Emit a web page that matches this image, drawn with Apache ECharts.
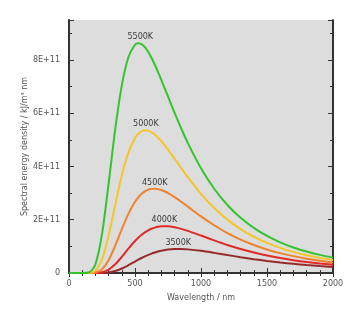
<!DOCTYPE html>
<html>
<head>
<meta charset="utf-8">
<script src="https://cdn.jsdelivr.net/npm/echarts@6/dist/echarts.min.js"></script>
<style>
  html, body { margin: 0; padding: 0; background: #fff; }
  #main { width: 364px; height: 325px; }
</style>
</head>
<body>
<div id="main"></div>
<script>
// wavelength (nm)
var wavelengths = [0, 100, 150, 200, 250, 300, 350, 400, 450, 500, 525, 550, 575, 600, 625, 650, 675, 700, 750,
    800, 850, 900, 1000, 1100, 1200, 1300, 1400, 1500, 1600, 1700, 1800, 1900, 2000];

// spectral energy density
var t5500 = [0, 0, 0.0175e11, 0.325e11, 1.458e11, 3.353e11, 5.392e11, 7.046e11, 8.10e11, 8.57e11, 8.63e11, 8.59e11, 8.48e11, 8.30e11, 8.08e11, 7.82e11, 7.54e11, 7.24e11, 6.63e11,
    6.01e11, 5.43e11, 4.885e11, 3.93e11, 3.165e11, 2.554e11, 2.072e11, 1.693e11, 1.392e11, 1.152e11, 0.960e11, 0.805e11, 0.680e11, 0.578e11];
var t5000 = [0, 0, 0.003e11, 0.0878e11, 0.512e11, 1.401e11, 2.553e11, 3.661e11, 4.523e11, 5.07e11, 5.23e11, 5.32e11, 5.36e11, 5.345e11, 5.29e11, 5.20e11, 5.08e11, 4.947e11, 4.63e11,
    4.29e11, 3.94e11, 3.598e11, 2.974e11, 2.442e11, 2.005e11, 1.65e11, 1.361e11, 1.13e11, 0.944e11, 0.793e11, 0.669e11, 0.568e11, 0.486e11];
var t4500 = [0, 0, 0, 0.0177e11, 0.1426e11, 0.483e11, 1.0245e11, 1.647e11, 2.222e11, 2.672e11, 2.84e11, 2.972e11, 3.066e11, 3.129e11, 3.159e11, 3.166e11, 3.15e11, 3.115e11, 3.003e11,
    2.851e11, 2.677e11, 2.493e11, 2.125e11, 1.792e11, 1.501e11, 1.256e11, 1.053e11, 0.885e11, 0.746e11, 0.633e11, 0.538e11, 0.460e11, 0.395e11];
var t4000 = [0, 0, 0, 0.0024e11, 0.0288e11, 0.1274e11, 0.327e11, 0.606e11, 0.914e11, 1.20e11, 1.325e11, 1.434e11, 1.526e11, 1.602e11, 1.661e11, 1.705e11, 1.736e11, 1.752e11, 1.751e11,
    1.717e11, 1.657e11, 1.582e11, 1.406e11, 1.224e11, 1.053e11, 0.901e11, 0.769e11, 0.657e11, 0.562e11, 0.482e11, 0.414e11, 0.357e11, 0.309e11];
var t3500 = [0, 0, 0, 0, 0.0037e11, 0.023e11, 0.0753e11, 0.1677e11, 0.2916e11, 0.429e11, 0.498e11, 0.563e11, 0.624e11, 0.68e11, 0.729e11, 0.772e11, 0.808e11, 0.838e11, 0.879e11,
    0.898e11, 0.90e11, 0.887e11, 0.832e11, 0.756e11, 0.674e11, 0.594e11, 0.52e11, 0.453e11, 0.395e11, 0.344e11, 0.30e11, 0.262e11, 0.229e11];

var xTicks = [0, 500, 1000, 1500, 2000];
var yTicks = [0, 2e11, 4e11, 6e11, 8e11];

var chart = echarts.init(document.getElementById('main'));

function pairs(vals) {
    return wavelengths.map(function (w, i) { return [w, vals[i]]; });
}

// one curve, labelled above its peak
function curve(name, vals, color, dx) {
    return {
        name: name,
        type: 'line',
        smooth: 0.3,
        symbol: 'none',
        data: pairs(vals),
        lineStyle: { color: color, width: 2 },
        markPoint: {
            symbol: 'circle',
            symbolSize: 0,
            data: [{ type: 'max' }],
            label: {
                show: true,
                position: 'top',
                distance: 2,
                offset: [dx, 0],
                formatter: name,
                color: '#3a3a3a',
                fontSize: 8,
                fontFamily: 'DejaVu Sans'
            }
        }
    };
}

var yFmt = function (v) {
    if (v === 0) return '0';
    return (v / 1e11) + 'E+11';
};

var tickStyle = { color: '#333', width: 1 };
var textStyle = { color: '#555', fontSize: 8, fontFamily: 'DejaVu Sans' };

chart.setOption({
    animation: false,
    grid: {
        left: 69, right: 31, top: 20, bottom: 52,
        show: true, backgroundColor: '#dddddd', borderWidth: 0
    },
    xAxis: [
        {
            type: 'value', min: 0, max: 2000, interval: 500,
            name: 'Wavelength / nm', nameLocation: 'middle', nameGap: 21,
            nameMoveOverlap: false,
            nameTextStyle: textStyle,
            axisLine: { onZero: false, lineStyle: { color: '#333', width: 2 } },
            axisTick: { inside: true, length: 5, lineStyle: tickStyle },
            minorTick: { show: true, splitNumber: 5, length: 3, lineStyle: tickStyle },
            axisLabel: {
                color: '#555', fontSize: 8, fontFamily: 'DejaVu Sans', margin: 7,
                formatter: function (v) { return xTicks.indexOf(v) >= 0 ? String(v) : ''; }
            },
            splitLine: { show: false }
        },
        {
            type: 'value', min: 0, max: 2000, interval: 500, position: 'top',
            axisLine: { show: false },
            axisTick: { inside: true, length: 4, lineStyle: tickStyle },
            minorTick: { show: true, splitNumber: 5, length: 3, lineStyle: tickStyle },
            axisLabel: { show: false },
            splitLine: { show: false }
        }
    ],
    yAxis: [
        {
            type: 'value', min: 0, max: 9.5e11, interval: 2e11,
            name: 'Spectral energy density / kJ/m³ nm', nameLocation: 'middle', nameGap: 40,
            nameMoveOverlap: false,
            nameTextStyle: textStyle,
            axisLine: { show: true, onZero: false, lineStyle: { color: '#333', width: 2 } },
            axisTick: { inside: true, length: 5, lineStyle: tickStyle },
            minorTick: { show: true, splitNumber: 2, length: 3, lineStyle: tickStyle },
            axisLabel: {
                color: '#555', fontSize: 8, fontFamily: 'DejaVu Sans', margin: 9,
                showMaxLabel: false,
                formatter: function (v) { return yTicks.indexOf(v) >= 0 ? yFmt(v) : ''; }
            },
            splitLine: { show: false }
        },
        {
            type: 'value', min: 0, max: 9.5e11, interval: 2e11, position: 'right',
            axisLine: { show: true, onZero: false, lineStyle: { color: '#333', width: 2 } },
            axisTick: { inside: true, length: 5, lineStyle: tickStyle },
            minorTick: { show: true, splitNumber: 2, length: 3, lineStyle: tickStyle },
            axisLabel: { show: false },
            splitLine: { show: false }
        }
    ],
    series: [
        curve('3500K', t3500, '#962a2a', -3),
        curve('4000K', t4000, '#e02a2a', 3),
        curve('4500K', t4500, '#f0822e', 0),
        curve('5000K', t5000, '#f5c62a', 1),
        curve('5500K', t5500, '#34c42e', 2)
    ]
});
</script>
</body>
</html>
